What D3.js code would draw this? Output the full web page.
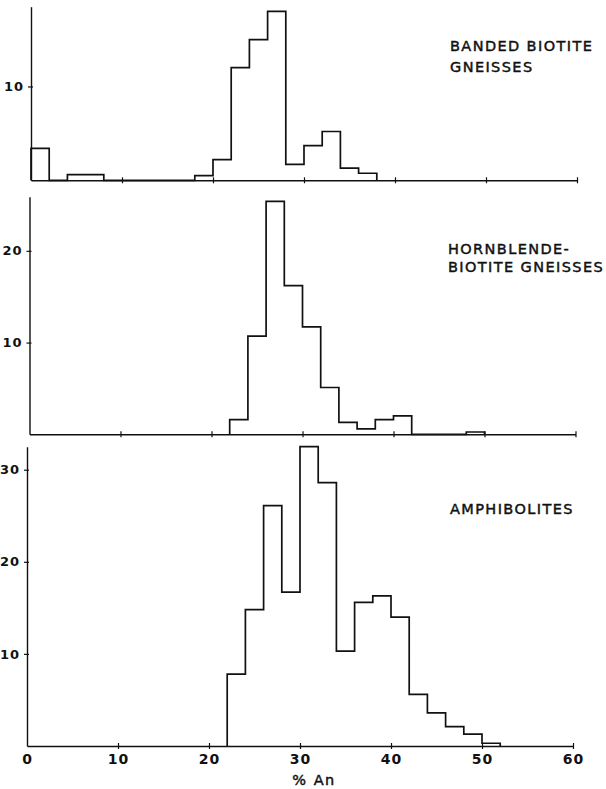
<!DOCTYPE html>
<html>
<head>
<meta charset="utf-8">
<script src="https://cdn.jsdelivr.net/npm/d3@7"></script>
<style>
  html, body { margin: 0; padding: 0; background: #fff; }
  svg { display: block; }
  text { font-family: "DejaVu Sans", sans-serif; fill: #111; }
</style>
</head>
<body>
<svg id="chart" width="606" height="789"></svg>
<script>
// Lower edges of the 2 % An classes
const binLow = [0, 2, 4, 6, 8, 10, 12, 14, 16, 18, 20, 22, 24, 26, 28, 30, 32, 34, 36, 38, 40, 42, 44, 46, 48, 50];
const binWidth = 2;

// Frequencies per class for each rock group
const bandedBiotite = [3.4, 0, 0.6, 0.6, 0, 0, 0, 0, 0, 0.5, 2.2, 12, 15, 18, 1.7, 3.7, 5.2, 1.3, 0.75, 0, 0, 0, 0, 0, 0, 0];
const hornblendeBiotite = [0, 0, 0, 0, 0, 0, 0, 0, 0, 0, 0, 1.6, 10.7, 25.4, 16.2, 11.7, 5.1, 1.3, 0.6, 1.6, 2.0, 0, 0, 0, 0.25, 0];
const amphibolites = [0, 0, 0, 0, 0, 0, 0, 0, 0, 0, 0, 7.8, 14.8, 26.1, 16.7, 32.5, 28.6, 10.3, 15.6, 16.3, 14.0, 5.6, 3.6, 2.1, 1.3, 0.3];

// Axis ticks
const xTicks = [10, 20, 30, 40, 50, 60];
const xTickLabels = [0, 10, 20, 30, 40, 50, 60];
const yTicksBanded = [10];
const yTicksHornblende = [10, 20];
const yTicksAmphibolites = [10, 20, 30];

const xLabel = "% An";

const panels = [
  { values: bandedBiotite, yMax: 18.5, yTicks: yTicksBanded,
    xRange: [31, 577], yRange: [180.3, 6.7],
    label: ["BANDED BIOTITE", "GNEISSES"], labelX: 450, labelY: [50.5, 72], showX: false },
  { values: hornblendeBiotite, yMax: 25.9, yTicks: yTicksHornblende,
    xRange: [29.5, 575.5], yRange: [434.3, 196.7],
    label: ["HORNBLENDE-", "BIOTITE GNEISSES"], labelX: 448, labelY: [254, 272], showX: false },
  { values: amphibolites, yMax: 32.5, yTicks: yTicksAmphibolites,
    xRange: [27, 573], yRange: [746, 446.7],
    label: ["AMPHIBOLITES"], labelX: 450, labelY: [514], showX: true }
];

const svg = d3.select("#chart");

panels.forEach(p => {
  const x = d3.scaleLinear().domain([0, 60]).range(p.xRange);
  const y = d3.scaleLinear().domain([0, p.yMax]).range(p.yRange);
  const g = svg.append("g");

  // x axis with small crossing ticks
  const xAxis = d3.axisBottom(x)
    .tickValues(p.showX ? xTickLabels : xTicks)
    .tickSizeInner(3).tickSizeOuter(0).tickPadding(5)
    .tickFormat(p.showX ? d3.format("d") : () => "");
  const gx = g.append("g")
    .attr("transform", `translate(0,${y(0)})`)
    .call(xAxis);
  gx.select(".domain").attr("stroke", "#111").attr("stroke-width", 1.4);
  gx.selectAll(".tick line").attr("y1", -3).attr("stroke", "#111").attr("stroke-width", 1.2);
  gx.selectAll(".tick").filter(d => d === 0).select("line").remove();
  gx.selectAll(".tick text")
    .attr("font-size", 14).attr("font-weight", "bold")
    .style("font-family", "'DejaVu Sans', sans-serif").attr("fill", "#111")
    .attr("letter-spacing", 1);

  // y axis
  const yAxis = d3.axisLeft(y)
    .tickValues(p.yTicks)
    .tickSizeInner(3).tickSizeOuter(0).tickPadding(4)
    .tickFormat(d3.format("d"));
  const gy = g.append("g")
    .attr("transform", `translate(${x(0)},0)`)
    .call(yAxis);
  gy.select(".domain").attr("stroke", "#111").attr("stroke-width", 1.4);
  gy.selectAll(".tick line").attr("x1", 2).attr("stroke", "#111").attr("stroke-width", 1.2);
  gy.selectAll(".tick text")
    .attr("font-size", 13).attr("font-weight", "bold")
    .style("font-family", "'DejaVu Sans', sans-serif").attr("fill", "#111")
    .attr("letter-spacing", 1);

  // histogram outline as a stepped path
  const nz = p.values.map((v, i) => v > 0 ? i : -1).filter(i => i >= 0);
  const first = nz[0], last = nz[nz.length - 1];
  const pts = [[binLow[first], 0]];
  for (let i = first; i <= last; i++) {
    pts.push([binLow[i], p.values[i]]);
    pts.push([binLow[i] + binWidth, p.values[i]]);
  }
  pts.push([binLow[last] + binWidth, 0]);
  const line = d3.line().x(d => x(d[0])).y(d => y(d[1]));
  g.append("path")
    .attr("d", line(pts))
    .attr("fill", "none")
    .attr("stroke", "#111")
    .attr("stroke-width", 1.7)
    .attr("stroke-linejoin", "miter");

  // group label
  p.label.forEach((t, k) => {
    g.append("text")
      .attr("x", p.labelX)
      .attr("y", p.labelY[k])
      .attr("font-size", 14.5)
      .attr("letter-spacing", 1.4)
      .attr("stroke", "#111")
      .attr("stroke-width", 0.45)
      .text(t);
  });

  if (p.showX) {
    g.append("text")
      .attr("x", 314)
      .attr("y", 785)
      .attr("text-anchor", "middle")
      .attr("font-size", 14.5)
      .attr("letter-spacing", 1.5)
      .attr("stroke", "#111")
      .attr("stroke-width", 0.45)
      .text(xLabel);
  }
});
</script>
</body>
</html>
